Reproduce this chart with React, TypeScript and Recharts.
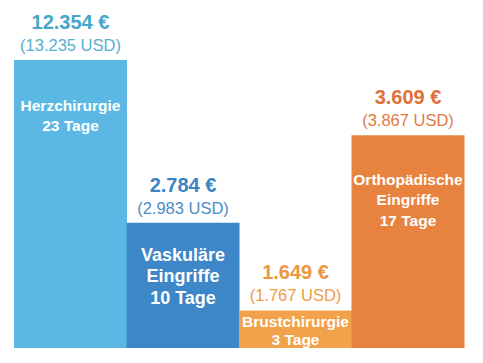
import { BarChart, Bar, XAxis, YAxis, Cell, LabelList } from 'recharts';

const procedures = [['Herzchirurgie'], ['Vaskuläre', 'Eingriffe'], ['Brustchirurgie'], ['Orthopädische', 'Eingriffe']];
const stayDays = [23, 10, 3, 17];
const costEur = ['12.354', '2.784', '1.649', '3.609'];
const costUsd = ['13.235', '2.983', '1.767', '3.867'];

const barColors = ['#5bb8e4', '#3d87c8', '#f1a24b', '#e8833f'];
const eurColors = ['#46a6c9', '#3a84c4', '#ec973f', '#df7038'];
const usdColors = ['#58aed0', '#4a8dc8', '#ee9c48', '#e27a43'];
// first inner line offset from bar top, line spacing and font size
const innerTop = [45, 32, 11, 44];
const innerStep = [20, 21.5, 18, 20.5];
const innerSize = [15.5, 18, 15.5, 15.5];

const data = procedures.map((lines, i) => ({
  name: lines.join(' '),
  days: stayDays[i],
}));

const font = '"Liberation Sans", Arial, sans-serif';

function BarText(props: any) {
  const { x, y, width, index } = props;
  const cx = x + width / 2;
  const lines = [...procedures[index], `${stayDays[index]} Tage`];
  return (
    <g fontFamily={font}>
      <text x={cx} y={y - 38} textAnchor="middle" dominantBaseline="central" fontSize={20} fontWeight="bold" fill={eurColors[index]}>
        {costEur[index]} €
      </text>
      <text x={cx} y={y - 15} textAnchor="middle" dominantBaseline="central" fontSize={16.5} fill={usdColors[index]}>
        ({costUsd[index]} USD)
      </text>
      {lines.map((t, j) => (
        <text
          key={j}
          x={cx}
          y={y + innerTop[index] + j * innerStep[index]}
          textAnchor="middle"
          dominantBaseline="central"
          fontSize={innerSize[index]}
          fontWeight="bold"
          fill="#ffffff"
        >
          {t}
        </text>
      ))}
    </g>
  );
}

export default function App() {
  return (
    <div style={{ position: 'absolute', left: 0, top: 0, background: '#fff' }}>
      <BarChart
        width={483}
        height={363}
        data={data}
        margin={{ top: 60, right: 19, left: 14, bottom: 15 }}
        barCategoryGap={0}
      >
        <XAxis dataKey="name" hide />
        <YAxis hide domain={[0, 23]} />
        <Bar dataKey="days" isAnimationActive={false}>
          {data.map((_, i) => (
            <Cell key={i} fill={barColors[i]} />
          ))}
          <LabelList dataKey="days" content={BarText} />
        </Bar>
      </BarChart>
    </div>
  );
}
